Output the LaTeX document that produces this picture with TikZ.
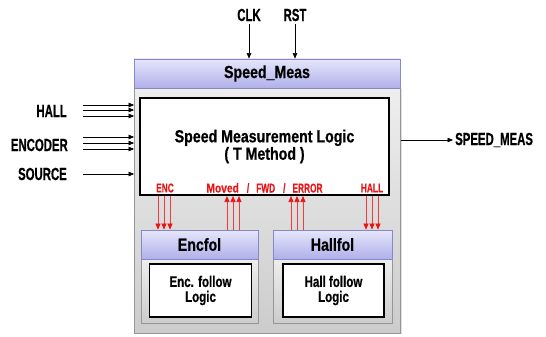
\documentclass[tikz,border=0pt]{standalone}
\usepackage{fontspec}
\setmainfont{Liberation Sans}
\newfontfamily\capsfnt{Liberation Sans}[FakeStretch=0.65,FakeBold=0.6]
\newfontfamily\mixfnt{Liberation Sans}[FakeStretch=0.81,FakeBold=0.6]
\newfontfamily\smallfnt{Liberation Sans}[FakeStretch=0.75,FakeBold=0.6]
\newfontfamily\redmixfnt{Liberation Sans}[FakeStretch=0.8,FakeBold=0.3]
\newfontfamily\redcapsfnt{Liberation Sans}[FakeStretch=0.65,FakeBold=0.3]
\usetikzlibrary{arrows.meta,shadows}
\definecolor{hdrtop}{RGB}{230,230,252}
\definecolor{hdrbot}{RGB}{176,176,234}
\definecolor{hdrline}{RGB}{136,136,200}
\definecolor{graytop}{RGB}{238,238,238}
\definecolor{graybot}{RGB}{204,204,204}
\definecolor{grayline}{RGB}{150,150,150}
\definecolor{sigred}{RGB}{235,20,20}
\definecolor{linered}{RGB}{240,60,60}
\tikzset{
  lab/.style={inner sep=0pt, font=\capsfnt\bfseries\fontsize{17.5}{20}\selectfont},
  redlab/.style={inner sep=0pt, text=sigred, font=\redcapsfnt\bfseries\fontsize{12.8}{14}\selectfont},
  hdr/.style={draw=hdrline, line width=0.8pt, top color=hdrtop, bottom color=hdrbot,
    inner sep=0pt, font=\mixfnt\bfseries\fontsize{17.5}{20}\selectfont},
  bodybox/.style={draw=grayline, line width=0.8pt, top color=graytop, bottom color=graybot, inner sep=0pt},
  logicbox/.style={draw=black, fill=white, inner sep=0pt, align=center},
  inarr/.style={-{Triangle[length=5.5pt,width=4.5pt]}, line width=0.5pt},
  redarr/.style={draw=linered, line width=0.7pt, -{Triangle[length=6pt,width=5pt,color=sigred]}}
}
\begin{document}
\begin{tikzpicture}[x=1pt,y=-1pt]
\useasboundingbox (0,0) rectangle (546,337);
\fill[white] (0,0) rectangle (546,337);

% main block
\node[bodybox, drop shadow={opacity=0.25, shadow xshift=1pt, shadow yshift=-1pt},
  minimum width=266pt, minimum height=245pt] (body) at (267.5,210.5) {};
\node[hdr, minimum width=266pt, minimum height=29pt] (header) at (267,73.5) {Speed\_Meas};
\node[logicbox, line width=2pt, minimum width=249pt, minimum height=97pt,
  font=\mixfnt\bfseries\fontsize{17.5}{17}\selectfont] (inner) at (264.5,146.5)
  {\raisebox{-1.5pt}{Speed Measurement Logic}\\( T Method )};

% red signal labels
\node[redlab] (encsig) at (165,188) {ENC};
\node[redlab] (mfesig) at (264.5,188) {{\redmixfnt Moved}\hspace{8pt}/\hspace{7pt}FWD\hspace{8pt}/\hspace{7pt}ERROR};
\node[redlab] (hallsig) at (372,188) {HALL};

% sub blocks
\node[bodybox, minimum width=117pt, minimum height=64pt] (encB) at (199.5,291) {};
\node[hdr, minimum width=117pt, minimum height=29pt] (encH) at (199.5,244.5) {Encfol};
\node[logicbox, line width=1.5pt, minimum width=102pt, minimum height=53pt,
  font=\smallfnt\bfseries\fontsize{15.4}{15}\selectfont] (encI) at (200.5,290.5) {Enc. follow\\Logic};

\node[bodybox, minimum width=119pt, minimum height=64pt] (halB) at (332.5,291) {};
\node[hdr, minimum width=119pt, minimum height=29pt] (halH) at (332.5,244.5) {Hallfol};
\node[logicbox, line width=1.5pt, minimum width=101pt, minimum height=53pt,
  font=\smallfnt\bfseries\fontsize{15.4}{15}\selectfont] (halI) at (333.5,290.5) {Hall follow\\Logic};

% red connectors
\foreach \x in {158,164,170} \draw[redarr] (\x,0 |- inner.south) -- (\x,0 |- encH.north);
\foreach \x in {227,233,239} \draw[redarr] (\x,0 |- encH.north) -- (\x,0 |- inner.south);
\foreach \x in {291,297,303} \draw[redarr] (\x,0 |- halH.north) -- (\x,0 |- inner.south);
\foreach \x in {366,372,378} \draw[redarr] (\x,0 |- inner.south) -- (\x,0 |- halH.north);

% inputs
\node[lab, anchor=east] (hallL) at (67,111) {HALL};
\node[lab, anchor=east] (encL) at (68,145) {ENCODER};
\node[lab, anchor=east] (srcL) at (67,174) {SOURCE};
\foreach \y [count=\i] in {105,110,116} {
  \coordinate (h\i) at (83,\y);
  \draw[inarr] (h\i) -- (h\i -| body.west);
}
\foreach \y [count=\i] in {137,143,149} {
  \coordinate (e\i) at (83,\y);
  \draw[inarr] (e\i) -- (e\i -| body.west);
}
\coordinate (s1) at (83,174);
\draw[inarr] (s1) -- (s1 -| body.west);

% output
\node[lab, anchor=west] (out) at (455,140) {SPEED\_MEAS};
\draw[inarr, shorten >=2pt] (out.west -| body.east) -- (out.west);

% clock and reset
\node[lab] (clk) at (249,15) {CLK};
\node[lab] (rst) at (295,15) {RST};
\draw[inarr, shorten <=3pt] (clk.south) -- (clk.south |- header.north);
\draw[inarr, shorten <=3pt] (rst.south) -- (rst.south |- header.north);
\end{tikzpicture}
\end{document}
